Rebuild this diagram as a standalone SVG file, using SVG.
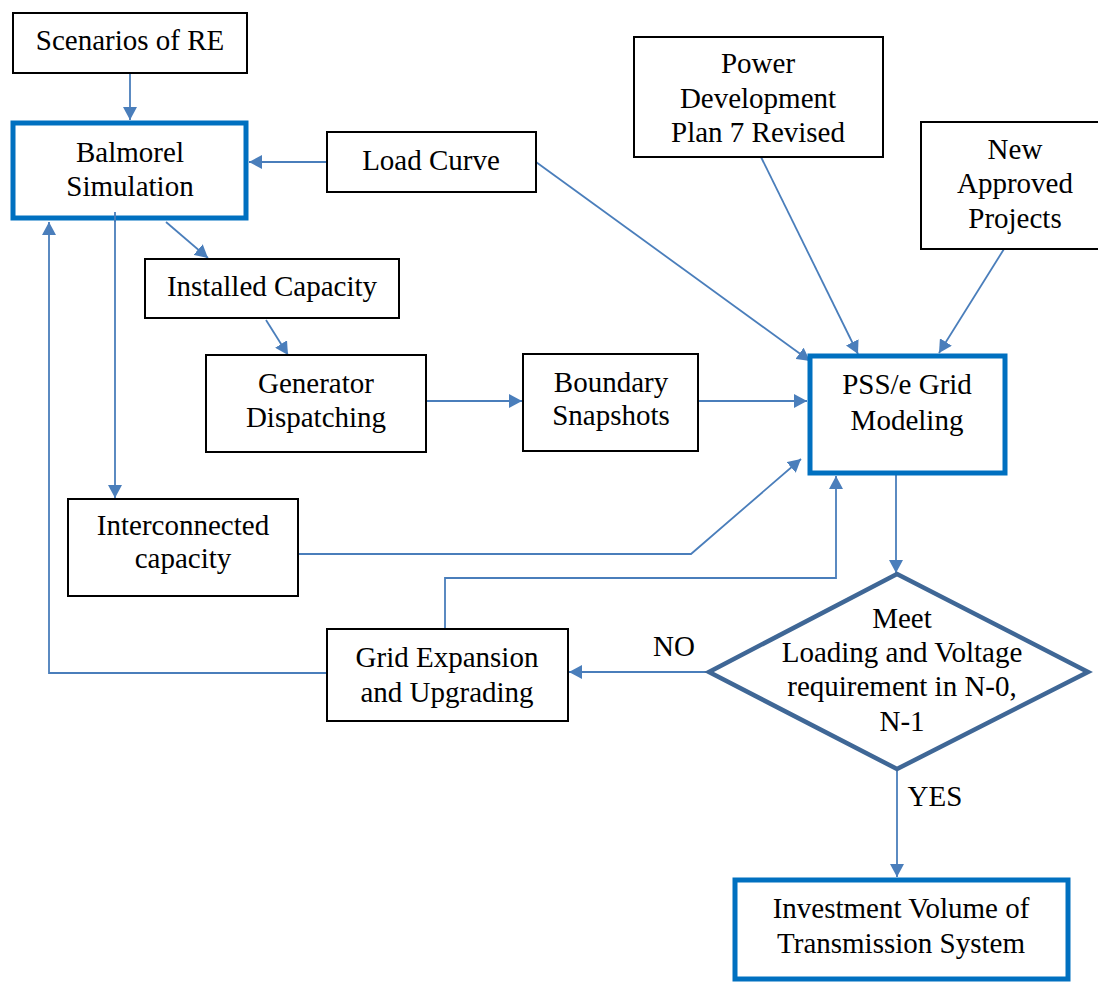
<svg xmlns="http://www.w3.org/2000/svg" width="1098" height="983" viewBox="0 0 1098 983">
<defs>
<marker id="arr" markerUnits="userSpaceOnUse" markerWidth="14" markerHeight="14" refX="13" refY="7" orient="auto">
<path d="M0,0 L13,7 L0,14 z" fill="#4A7EBB"/>
</marker>
<style>
.box{fill:#fff;stroke:#000;stroke-width:2}
.tbox{fill:#fff;stroke:#0070C0;stroke-width:5}
.dia{fill:#fff;stroke:#3F6796;stroke-width:4.5;stroke-linejoin:miter}
.t{font-family:"Liberation Serif","Times New Roman",serif;font-size:29px;fill:#000;text-anchor:middle}
.c{fill:none;stroke:#4A7EBB;stroke-width:1.8;marker-end:url(#arr)}
.cn{fill:none;stroke:#4A7EBB;stroke-width:1.8}
</style>
</defs>
<rect width="1098" height="983" fill="#fff"/>
<g id="connectors">
<line class="c" x1="130" y1="73" x2="130" y2="120"/>
<line class="c" x1="327" y1="162" x2="249" y2="162"/>
<line class="c" x1="166" y1="222" x2="208" y2="258"/>
<line class="c" x1="266" y1="320" x2="288" y2="355"/>
<line class="c" x1="115" y1="212" x2="115" y2="498"/>
<line class="c" x1="426" y1="401" x2="522" y2="401"/>
<line class="c" x1="698" y1="401" x2="807" y2="401"/>
<line class="c" x1="536" y1="162" x2="810" y2="361"/>
<line class="c" x1="761" y1="157" x2="858" y2="354"/>
<line class="c" x1="1004" y1="249" x2="939" y2="353"/>
<polyline class="c" points="298,554 691,554 801,459"/>
<polyline class="c" points="445,632 445,578 836,578 836,476"/>
<line class="c" x1="896" y1="475" x2="896" y2="573"/>
<line class="c" x1="709" y1="672" x2="569" y2="672"/>
<line class="c" x1="897" y1="769" x2="897" y2="877"/>
<polyline class="c" points="327,673 49,673 49,222"/>
</g>
<g id="scenarios"><rect class="box" x="13" y="13" width="234" height="60"/><text class="t" x="130" y="50">Scenarios of RE</text></g>
<g id="balmorel"><rect class="tbox" x="13" y="123" width="233" height="95"/><text class="t" x="130" y="162">Balmorel</text><text class="t" x="130" y="196">Simulation</text></g>
<line class="cn" x1="115" y1="212" x2="115" y2="222"/>
<g id="loadcurve"><rect class="box" x="327" y="132" width="209" height="60"/><text class="t" x="431" y="170">Load Curve</text></g>
<g id="installed"><rect class="box" x="145" y="259" width="254" height="59"/><text class="t" x="272" y="296">Installed Capacity</text></g>
<g id="generator"><rect class="box" x="206" y="355" width="220" height="97"/><text class="t" x="316" y="393">Generator</text><text class="t" x="316" y="427">Dispatching</text></g>
<g id="boundary"><rect class="box" x="523" y="354" width="175" height="97"/><text class="t" x="611" y="392">Boundary</text><text class="t" x="611" y="425">Snapshots</text></g>
<g id="pdp"><rect class="box" x="634" y="37" width="249" height="120"/><text class="t" x="758" y="73">Power</text><text class="t" x="758" y="108">Development</text><text class="t" x="758" y="142">Plan 7 Revised</text></g>
<g id="newapproved"><rect class="box" x="921" y="122" width="188" height="127"/><text class="t" x="1015" y="159">New</text><text class="t" x="1015" y="193">Approved</text><text class="t" x="1015" y="228">Projects</text></g>
<g id="pss"><rect class="tbox" x="810" y="356" width="195" height="117"/><text class="t" x="907" y="394">PSS/e Grid</text><text class="t" x="907" y="430">Modeling</text></g>
<g id="interconnected"><rect class="box" x="68" y="499" width="230" height="97"/><text class="t" x="183" y="535">Interconnected</text><text class="t" x="183" y="568">capacity</text></g>
<g id="gridexp"><rect class="box" x="327" y="629" width="241" height="92"/><text class="t" x="447" y="667">Grid Expansion</text><text class="t" x="447" y="702">and Upgrading</text></g>
<g id="decision"><polygon class="dia" points="897,574 1088,672 897,769 709,672"/><text class="t" x="902" y="628">Meet</text><text class="t" x="902" y="662">Loading and Voltage</text><text class="t" x="902" y="696">requirement in N-0,</text><text class="t" x="902" y="731">N-1</text></g>
<g id="labels"><text class="t" x="674" y="656">NO</text><text class="t" x="935" y="806">YES</text></g>
<g id="investment"><rect class="tbox" x="735" y="880" width="333" height="99"/><text class="t" x="901" y="918">Investment Volume of</text><text class="t" x="901" y="953">Transmission System</text></g>
</svg>
